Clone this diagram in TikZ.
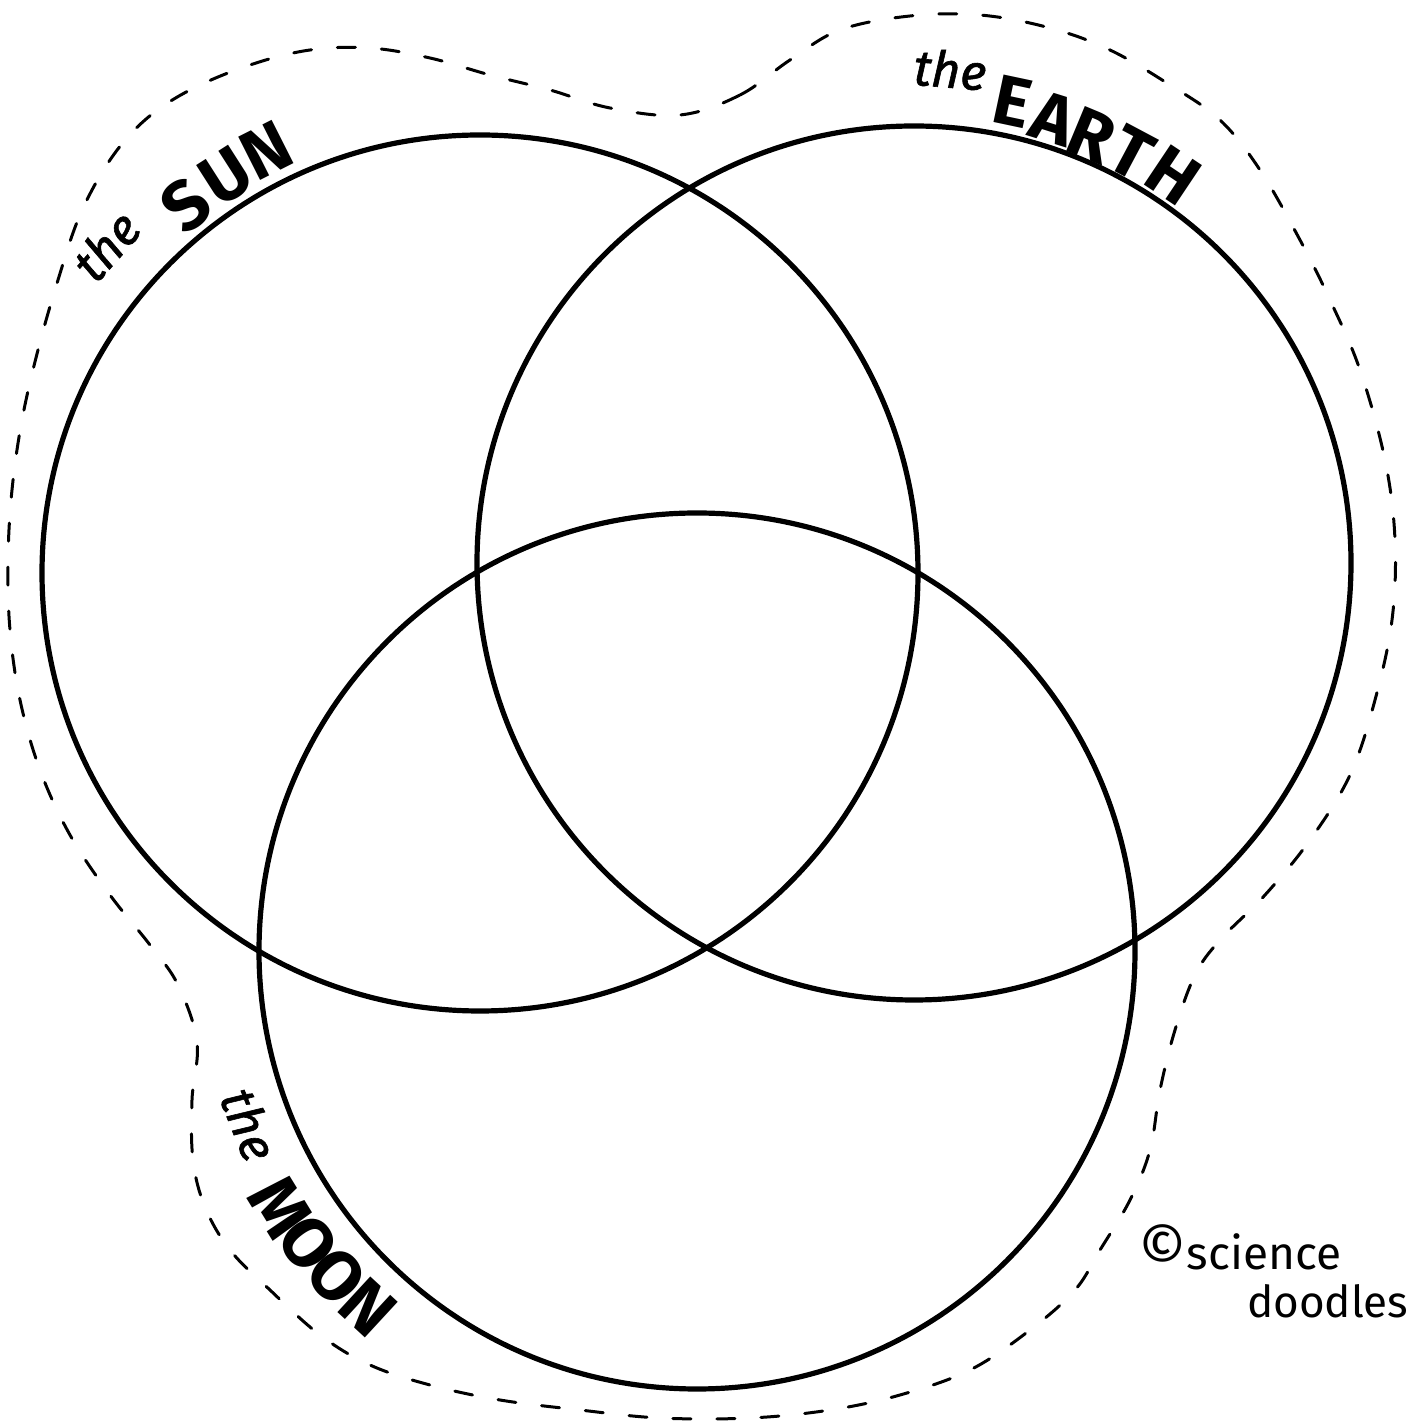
\documentclass[tikz,border=0pt]{standalone}
\usepackage{fontspec}
\newfontfamily\capfont{Fira Sans}
\newfontfamily\handfont{Fira Sans}
\newfontfamily\thefont{Fira Sans}[FakeBold=1.2]
\usetikzlibrary{calc}
\begin{document}
\begin{tikzpicture}[x=1pt,y=1pt,
  ring/.style={line width=5.2pt},
  outline/.style={line width=3pt, dash pattern=on 18pt off 26pt, line cap=round},
  capl/.style={font=\capfont\bfseries\fontsize{70}{70}\selectfont, inner sep=0pt},
  thel/.style={font=\thefont\itshape\fontsize{50}{50}\selectfont, inner sep=0pt},
  sig/.style={font=\handfont\fontsize{46}{46}\selectfont, inner sep=0pt, anchor=base west}]
\useasboundingbox (0,0) rectangle (1417,1422);
\coordinate (sunC) at (480,849);
\coordinate (earthC) at (914,859);
\coordinate (moonC) at (697,471);

% dashed outline
\draw[outline] plot[smooth cycle, tension=0.6] coordinates {
 (680,1307) (740,1327) (790,1362) (840,1392) (910,1406) (980,1407) (1050,1394)
 (1110,1372) (1170,1337) (1220,1302) (1260,1252) (1300,1182) (1330,1122)
 (1360,1052) (1385,962) (1395,882) (1392,802) (1375,722) (1350,647) (1310,582)
 (1265,527) (1220,482) (1195,447) (1175,392) (1160,332) (1150,272) (1130,222)
 (1100,172) (1075,132) (1030,92) (970,52) (900,27) (830,12) (750,4) (660,4)
 (580,12) (500,22) (430,37) (370,57) (320,87) (270,132) (230,172) (205,215)
 (193,262) (192,322) (197,380) (178,437) (150,477) (110,527) (70,587) (40,652)
 (20,722) (10,792) (8,862) (12,932) (22,1002) (38,1072) (58,1142) (80,1207)
 (110,1262) (145,1302) (190,1332) (250,1357) (310,1372) (370,1374) (430,1364)
 (490,1347) (550,1332) (610,1314)};

% circles
\draw[ring] (sunC) circle[radius=438];
\draw[ring] (earthC) circle[radius=437];
\draw[ring] (moonC) circle[radius=438];

% the SUN
\node[thel, rotate=48.5] (sunThe) at ($(sunC)+(138.8:497)$) {the};
\node[capl, rotate=38.7] (sunS) at ($(sunC)+(128.7:471)$) {S};
\node[capl, rotate=32.6] (sunU) at ($(sunC)+(122.6:471)$) {U};
\node[capl, rotate=26.8] (sunN) at ($(sunC)+(116.8:473)$) {N};

% the EARTH
\node[thel, rotate=-4.8] (earthThe) at ($(earthC)+(85.8:495)$) {the};
\node[capl, rotate=-12] (earthE) at ($(earthC)+(78:472)$) {E};
\node[capl, rotate=-17.4] (earthA) at ($(earthC)+(72.6:466)$) {A};
\node[capl, rotate=-22.6] (earthR) at ($(earthC)+(67.4:463)$) {R};
\node[capl, rotate=-28] (earthT) at ($(earthC)+(62:464)$) {T};
\node[capl, rotate=-33.8] (earthH) at ($(earthC)+(56.2:466)$) {H};

% the MOON
\node[thel, rotate=-68.4] (moonThe) at ($(moonC)+(201.2:480)$) {the};
\node[capl, rotate=-58.4] (moonM) at ($(moonC)+(211.6:489)$) {M};
\node[capl, rotate=-53.1] (moonO1) at ($(moonC)+(216.9:486)$) {O};
\node[capl, rotate=-47.9] (moonO2) at ($(moonC)+(222.1:485)$) {O};
\node[capl, rotate=-42.7] (moonN) at ($(moonC)+(227.3:485)$) {N};

% signature
\node[sig] (sig1) at (1138,152) {{\fontsize{60}{60}\selectfont ©}science};
\node[sig, font=\handfont\fontsize{44}{44}\selectfont] (sig2) at (1247,104) {doodles};
\end{tikzpicture}
\end{document}
